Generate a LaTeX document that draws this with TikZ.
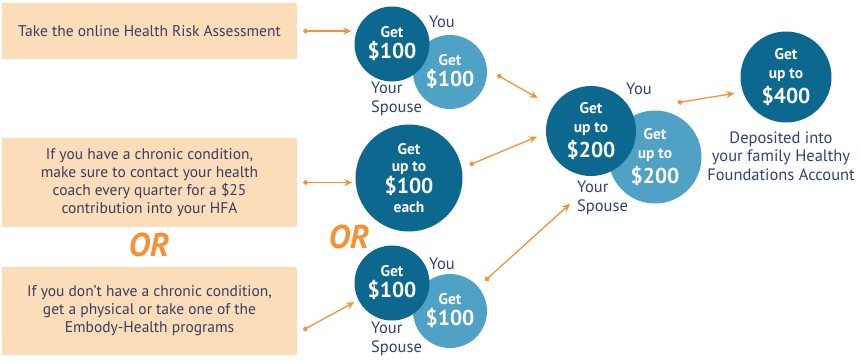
\documentclass[tikz,border=0pt]{standalone}
\usepackage{fontspec}
\setmainfont{PT Sans}
\usetikzlibrary{arrows.meta}
\definecolor{peach}{RGB}{252,221,186}
\definecolor{deepblue}{RGB}{13,104,144}
\definecolor{paleblue}{RGB}{80,161,198}
\definecolor{tangerine}{RGB}{246,146,52}
\definecolor{navytext}{RGB}{44,66,122}
\definecolor{boxtext}{RGB}{56,60,98}
\newcommand{\cashsize}{\fontsize{21.5}{21}\selectfont}
\begin{document}
\begin{tikzpicture}[x=1pt,y=-1pt,
	box/.style={fill=peach, minimum width=295pt, text=boxtext, align=center, inner sep=0pt, font=\fontsize{15.5}{18}\selectfont},
	youdisc/.style={circle, fill=deepblue, text=white, inner sep=0pt, align=center, font=\bfseries\fontsize{15.5}{18}\selectfont},
	spousedisc/.style={youdisc, fill=paleblue},
	tag/.style={text=navytext, align=left, inner sep=0pt, font=\fontsize{16.5}{18.5}\selectfont},
	link/.style={tangerine, line width=1.3pt, {Circle[length=5pt]}-{Stealth[length=8pt,width=7pt]}},
	ortext/.style={text=tangerine, inner sep=0pt, font=\fontsize{33}{33}\selectfont\bfseries\itshape}]
	\useasboundingbox (0,0) rectangle (859,360);
		\node[box, minimum height=56pt] (hra) at (149.5,31) {Take the online Health Risk Assessment};
		\node[box, minimum height=89pt] (chronic) at (149.5,182.5) {If you have a chronic condition,\\make sure to contact your health\\coach every quarter for a \$25\\contribution into your HFA};
		\node[box, minimum height=88pt] (physical) at (149.5,311) {If you don't have a chronic condition,\\get a physical or take one of the\\Embody-Health programs};
		\node[ortext] (orleft) at (149,245) {OR};
		\node[ortext] (orright) at (349,237) {OR};
		\node[spousedisc, minimum size=74pt] (hraspouse) at (450,72) {Get\\[3pt]\cashsize\$100};
		\node[youdisc, minimum size=75pt] (hrayou) at (392,44) {Get\\[3pt]\cashsize\$100};
		\node[tag] (hrayoutag) at (442,22) {You};
		\node[tag, anchor=north west] (hraspousetag) at (371,82) {Your\\Spouse};
		\node[youdisc, minimum size=107pt] (coach) at (409,178) {Get\\[-1pt]up to\\[1pt]\cashsize\$100\\[1pt]each};
		\node[spousedisc, minimum size=74pt] (physspouse) at (450,311) {Get\\[3pt]\cashsize\$100};
		\node[youdisc, minimum size=75pt] (physyou) at (392,283) {Get\\[3pt]\cashsize\$100};
		\node[tag] (physyoutag) at (442,264) {You};
		\node[tag, anchor=north west] (physspousetag) at (371,322) {Your\\Spouse};
		\node[spousedisc, minimum size=93pt] (totalspouse) at (655,157) {Get\\[1pt]up to\\[3pt]\cashsize\$200};
		\node[youdisc, minimum size=90pt] (totalyou) at (591,131) {Get\\[1pt]up to\\[3pt]\cashsize\$200};
		\node[tag] (totalyoutag) at (639,89) {You};
		\node[tag, anchor=north west] (totalspousetag) at (577,181) {Your\\Spouse};
		\node[youdisc, minimum size=91pt] (family) at (786,77) {Get\\[1pt]up to\\[3pt]\cashsize\$400};
		\node[tag, align=center] (deposit) at (781,156) {Deposited into\\your family Healthy\\Foundations Account};
		\draw[link, shorten <=6pt, shorten >=3pt] (hra.east) -- (hra.east -| hrayou.west);
		\draw[link, shorten <=6pt, shorten >=3pt] (chronic.east) -- (chronic.east -| coach.west);
		\draw[link] ([shift={(6,19)}]physical.east) -- ([shift={(-4,2)}]physyou.207);
		\draw[link] ([shift={(10,3)}]hraspouse.east) -- ([shift={(-15,-9)}]totalyou.148);
		\draw[link] ([shift={(8,-2)}]coach.12) -- ([shift={(-9,1)}]totalyou.186);
		\draw[link] ([shift={(7,-6)}]physspouse.41) -- ([shift={(-7,6)}]totalspousetag.west);
		\draw[link] ([shift={(5,-11)}]totalspouse.68) -- ([shift={(-8,3)}]family.197);
\end{tikzpicture}
\end{document}
